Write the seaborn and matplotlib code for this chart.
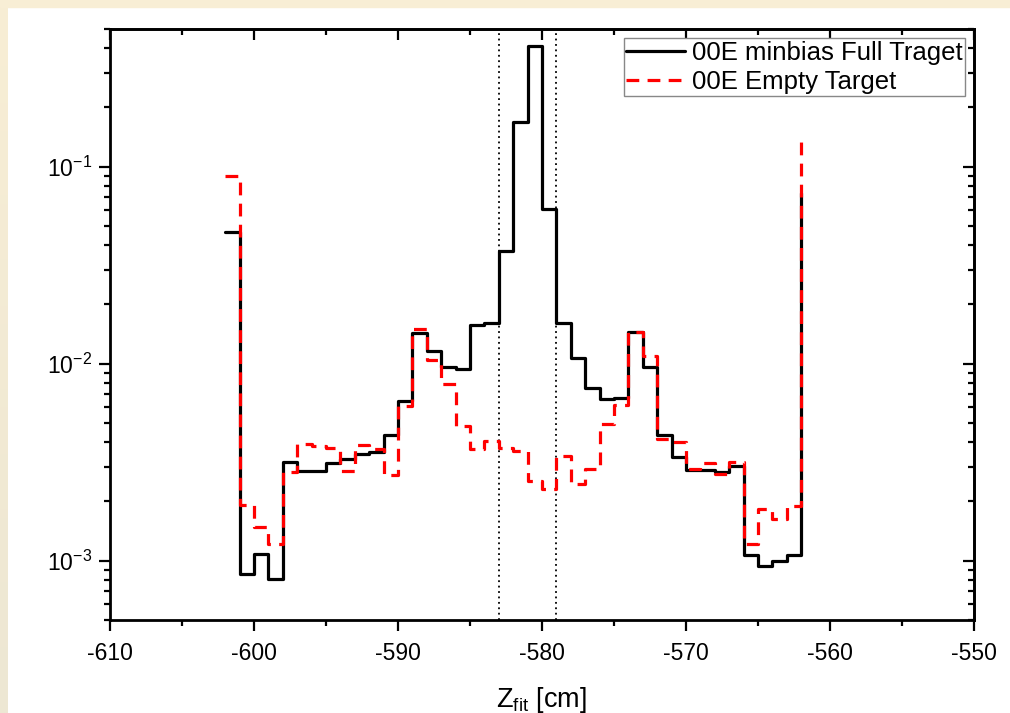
import numpy as np
import pandas as pd
import matplotlib
matplotlib.use("Agg")
import matplotlib.pyplot as plt
import matplotlib.ticker as mticker
from matplotlib.colors import LinearSegmentedColormap
import seaborn as sns

# ---- data ----
z_fit = list(range(-602, -561))  # step points, 1 cm bins

full_target = [
    0.0465, 8.6e-4, 1.08e-3, 8.1e-4, 3.18e-3, 2.86e-3, 2.86e-3, 3.15e-3, 3.27e-3, 3.5e-3,
    3.55e-3, 4.33e-3, 6.44e-3, 0.0143, 0.0116, 9.6e-3, 9.4e-3, 0.0157, 0.0161, 0.0374,
    0.169, 0.408, 0.0612, 0.0160, 0.0107, 7.55e-3, 6.6e-3, 6.7e-3, 0.0145, 9.6e-3,
    4.33e-3, 3.35e-3, 2.9e-3, 2.88e-3, 2.83e-3, 3.03e-3, 1.07e-3, 9.4e-4, 1.0e-3, 1.07e-3,
    0.0738,
]
empty_target = [
    0.09, 1.91e-3, 1.49e-3, 1.22e-3, 2.83e-3, 3.9e-3, 3.8e-3, 3.73e-3, 2.85e-3, 3.85e-3,
    3.7e-3, 2.73e-3, 6.1e-3, 0.015, 0.0105, 7.9e-3, 4.85e-3, 3.7e-3, 4.05e-3, 3.73e-3,
    3.6e-3, 2.55e-3, 2.32e-3, 3.39e-3, 2.45e-3, 2.93e-3, 4.95e-3, 6.2e-3, 0.0144, 0.011,
    4.15e-3, 4.0e-3, 2.93e-3, 3.12e-3, 2.77e-3, 3.16e-3, 1.22e-3, 1.82e-3, 1.63e-3, 1.9e-3,
    0.134,
]
series_labels = ["00E minbias Full Traget", "00E Empty Target"]
cut_lines = [-583, -579]
x_ticks = [-610, -600, -590, -580, -570, -560, -550]

# ---- style ----
sns.set_theme(style="white")
plt.rcParams["font.family"] = ["Liberation Sans", "DejaVu Sans"]
plt.rcParams["mathtext.fontset"] = "custom"
plt.rcParams["mathtext.rm"] = "Liberation Sans"
plt.rcParams["mathtext.it"] = "Liberation Sans:italic"
plt.rcParams["axes.unicode_minus"] = False
plt.rcParams["text.color"] = "black"
plt.rcParams["axes.labelcolor"] = "black"
plt.rcParams["xtick.color"] = "black"
plt.rcParams["ytick.color"] = "black"

fig = plt.figure(figsize=(10.10, 7.13), dpi=100, facecolor="white")

# beige border (top band + left gradient band)
top_h = 7 / 713
left_w = 7.5 / 1010
fig.patches.append(plt.Rectangle((0, 1 - top_h), 1, top_h, transform=fig.transFigure,
                                 color="#f8eed5", zorder=0))
bax = fig.add_axes([0, 0, left_w, 1])
cmap = LinearSegmentedColormap.from_list("bg", ["#ede7d3", "#f8eed5"])
bax.imshow(np.linspace(0, 1, 256)[:, None], aspect="auto", cmap=cmap, origin="lower")
bax.set_axis_off()

ax = fig.add_axes([110 / 1010, 1 - 620 / 713, 864 / 1010, (620 - 29) / 713])

df = pd.DataFrame({
    "z": z_fit * 2,
    "value": full_target + empty_target,
    "series": [series_labels[0]] * len(z_fit) + [series_labels[1]] * len(z_fit),
})

sns.lineplot(data=df[df.series == series_labels[0]], x="z", y="value", ax=ax,
             color="black", lw=2.3, drawstyle="steps-post", estimator=None,
             sort=False, legend=False, zorder=3)
sns.lineplot(data=df[df.series == series_labels[1]], x="z", y="value", ax=ax,
             color="#ff0000", lw=2.3, drawstyle="steps-post", estimator=None,
             sort=False, legend=False, zorder=4, linestyle=(0, (4, 2.6)))

for xc in cut_lines:
    ax.axvline(xc, color="black", lw=1.3, linestyle=(0, (1, 2)), zorder=2)

ax.set_yscale("log")
ax.set_xlim(-610, -550)
ax.set_ylim(5e-4, 0.5)
ax.set_xticks(x_ticks)
ax.xaxis.set_minor_locator(mticker.MultipleLocator(5))
ax.yaxis.set_major_locator(mticker.LogLocator(base=10, numticks=10))
ax.yaxis.set_minor_locator(mticker.LogLocator(base=10, subs=np.arange(2, 10), numticks=20))
ax.yaxis.set_minor_formatter(mticker.NullFormatter())

for side in ["left", "right", "top", "bottom"]:
    ax.spines[side].set_visible(True)
    ax.spines[side].set_color("black")
    ax.spines[side].set_linewidth(2.0)

ax.tick_params(axis="both", which="major", length=8, width=1.6, color="black",
               labelsize=16.5, labelcolor="black")
ax.tick_params(axis="both", which="minor", length=4.5, width=1.6, color="black")
ax.tick_params(axis="x", which="both", bottom=True, top=False, direction="out")
ax.tick_params(axis="x", which="major", pad=8)
ax.tick_params(axis="y", which="both", left=True, right=False, direction="out")
ax.tick_params(axis="y", which="major", pad=5)

# mirrored ticks on top/right point inward
ax2 = ax.secondary_xaxis("top")
ax2.set_xticks(x_ticks)
ax2.xaxis.set_minor_locator(mticker.MultipleLocator(5))
ax2.tick_params(which="major", direction="in", length=8, width=1.6, labeltop=False)
ax2.tick_params(which="minor", direction="in", length=4.5, width=1.6)
ax2.spines["top"].set_linewidth(2.0)
ax3 = ax.secondary_yaxis("right")
ax3.set_yscale("log")
ax3.yaxis.set_major_locator(mticker.LogLocator(base=10, numticks=10))
ax3.yaxis.set_minor_locator(mticker.LogLocator(base=10, subs=np.arange(2, 10), numticks=20))
ax3.tick_params(which="major", direction="in", length=8, width=1.6, labelright=False)
ax3.tick_params(which="minor", direction="in", length=4.5, width=1.6, labelright=False)
ax3.yaxis.set_minor_formatter(mticker.NullFormatter())
ax3.spines["right"].set_linewidth(2.0)

ax.set_xlabel(r"$\mathregular{Z_{fit}}$ [cm]", fontsize=19.5, labelpad=14)
ax.set_ylabel("")

leg = ax.legend(ax.lines[:2], series_labels, loc="upper right", fontsize=18.5,
                frameon=True, fancybox=False, edgecolor="#888888", framealpha=1,
                handlelength=2.3, handletextpad=0.25, borderpad=0.1,
                labelspacing=0.2, borderaxespad=0.35)
leg.get_frame().set_linewidth(1.0)
for t in leg.get_texts():
    t.set_color("black")

fig.savefig("out.png", dpi=100, facecolor="white")
